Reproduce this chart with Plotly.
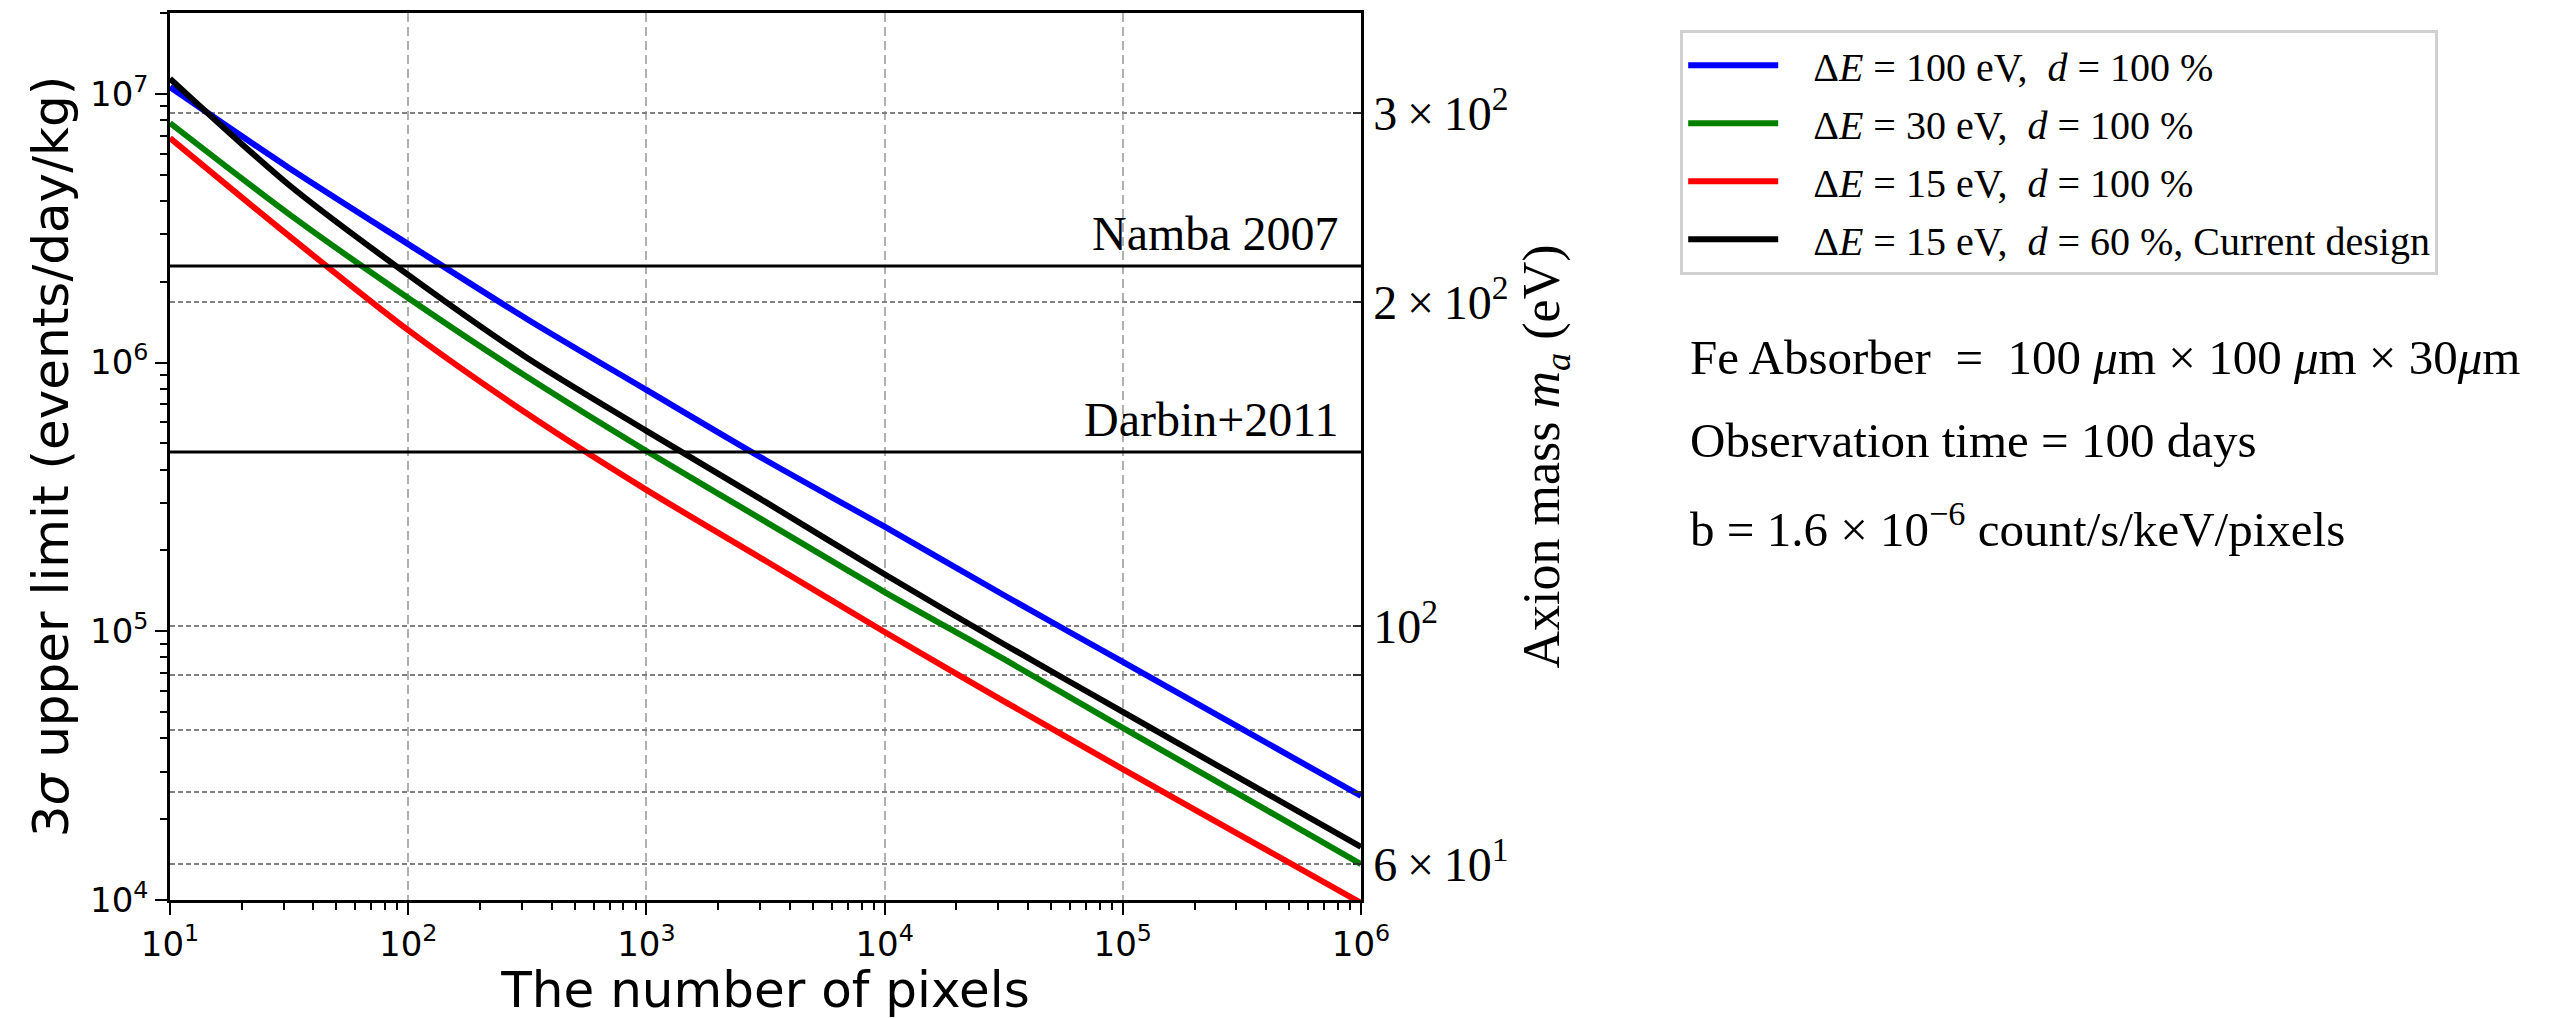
import numpy as np
import plotly.graph_objects as go

# ---------------- data ----------------
pixels = [10, 31.6, 100, 316, 1000, 3160, 1e4, 3.16e4, 1e5, 3.16e5, 1e6]

ul_100eV_d100 = [1.06e7, 5.30e6, 2.76e6, 1.45e6, 7.91e5, 4.34e5, 2.45e5, 1.365e5, 7.69e4, 4.33e4, 2.44e4]
ul_30eV_d100 = [7.79e6, 3.57e6, 1.74e6, 8.84e5, 4.69e5, 2.56e5, 1.40e5, 7.89e4, 4.37e4, 2.44e4, 1.36e4]
ul_15eV_d100 = [6.85e6, 2.96e6, 1.32e6, 6.45e5, 3.36e5, 1.83e5, 9.94e4, 5.50e4, 3.07e4, 1.73e4, 9.75e3]
ul_15eV_d60 = [1.14e7, 4.58e6, 2.12e6, 1.04e6, 5.57e5, 3.03e5, 1.63e5, 8.97e4, 5.01e4, 2.81e4, 1.575e4]

series_names = [
    "\u00a0\u00a0\u00a0Δ<i>E</i> = 100 eV,  <i>d</i> = 100 %",
    "\u00a0\u00a0\u00a0Δ<i>E</i> = 30 eV,  <i>d</i> = 100 %",
    "\u00a0\u00a0\u00a0Δ<i>E</i> = 15 eV,  <i>d</i> = 100 %",
    "\u00a0\u00a0\u00a0Δ<i>E</i> = 15 eV,  <i>d</i> = 60 %, Current design",
]
series_colors = ["#0000ff", "#008000", "#ff0000", "#000000"]

ref_names = ["Namba 2007", "Darbin+2011"]
ref_values = [2.29e6, 4.65e5]

x_range = [10, 1e6]
y_range = [1e4, 2e7]
x_tick_exp = [1, 2, 3, 4, 5, 6]
y_tick_exp = [4, 5, 6, 7]

# right axis: axion mass m_a = mass_scale * rate^(1/4)
mass_scale = 5.56
mass_ticks = [60, 70, 80, 90, 100, 200, 300]
mass_ticktext = ["6\u2009×\u200910<sup>1</sup>", "", "", "", "10<sup>2</sup>",
                 "2\u2009×\u200910<sup>2</sup>", "3\u2009×\u200910<sup>2</sup>"]

info_lines = [
    "Fe Absorber\u00a0\u00a0=\u00a0\u00a0100 <i>μ</i>m × 100 <i>μ</i>m × 30<i>μ</i>m",
    "Observation time = 100 days",
    "b = 1.6 × 10<sup>−6</sup> count/s/keV/pixels",
]

SANS = "DejaVu Sans"
SERIF = "Liberation Serif"

fig = go.Figure()

series = [ul_100eV_d100, ul_30eV_d100, ul_15eV_d100, ul_15eV_d60]
for i, (vals, name, col) in enumerate(zip(series, series_names, series_colors)):
    fig.add_trace(go.Scatter(
        x=pixels, y=vals, mode="lines", name=name,
        line=dict(color=col, width=6, shape="spline", smoothing=0.8),
        legendgroup=f"g{i}",
    ))

for name, val in zip(ref_names, ref_values):
    fig.add_trace(go.Scatter(
        x=x_range, y=[val, val], mode="lines", showlegend=False,
        line=dict(color="black", width=3),
    ))
    fig.add_annotation(
        x=0.983, xref="paper", xanchor="right",
        y=np.log10(val), yref="y", yanchor="bottom", yshift=4,
        text=name, showarrow=False,
        font=dict(family=SERIF, size=48, color="black"),
    )

# invisible trace to activate the right axis
fig.add_trace(go.Scatter(
    x=[x_range[0]], y=[100], yaxis="y2", mode="lines",
    line=dict(width=0), showlegend=False, hoverinfo="skip",
))

minor_x = [m * 10 ** e for e in range(1, 6) for m in range(2, 10)]
minor_y = [m * 10 ** e for e in range(4, 8) for m in range(2, 10) if m * 10 ** e <= y_range[1]]

fig.update_layout(
    width=2552, height=1019,
    paper_bgcolor="white", plot_bgcolor="white",
    margin=dict(l=170, r=1191, t=13, b=119, autoexpand=False),
    showlegend=True,
    legend=dict(
        x=1.268, y=0.981, xanchor="left", yanchor="top",
        font=dict(family=SERIF, size=40, color="black"),
        bordercolor="#d0d0d0", borderwidth=3, bgcolor="white",
        itemwidth=90, tracegroupgap=3,
    ),
    xaxis=dict(
        type="log", range=[np.log10(x_range[0]), np.log10(x_range[1])],
        tickvals=[10 ** e for e in x_tick_exp],
        ticktext=[f"10<sup>{e}</sup>" for e in x_tick_exp],
        tickfont=dict(family=SANS, size=34, color="black"),
        ticks="outside", ticklen=12, tickwidth=2, tickcolor="black",
        minor=dict(tickvals=minor_x, ticks="outside", ticklen=7, tickwidth=1.5, tickcolor="black", showgrid=False),
        showline=True, linecolor="black", linewidth=2.5, mirror=True,
        showgrid=True, gridcolor="#b0b0b0", gridwidth=2, griddash="9px,5px",
        zeroline=False,
        title=dict(text="The number of pixels", font=dict(family=SANS, size=50, color="black"), standoff=6),
    ),
    yaxis=dict(
        type="log", range=[np.log10(y_range[0]), np.log10(y_range[1])],
        tickvals=[10 ** e for e in y_tick_exp],
        ticktext=[f"10<sup>{e}</sup>" for e in y_tick_exp],
        tickfont=dict(family=SANS, size=34, color="black"),
        ticks="outside", ticklen=12, tickwidth=2, tickcolor="black",
        minor=dict(tickvals=minor_y, ticks="outside", ticklen=7, tickwidth=1.5, tickcolor="black", showgrid=False),
        showline=True, linecolor="black", linewidth=2.5, mirror=False,
        showgrid=False, zeroline=False,
        title=dict(text="3<i>σ</i> upper limit (events/day/kg)", font=dict(family=SANS, size=50, color="black"), standoff=6),
    ),
    yaxis2=dict(
        type="log", overlaying="y", side="right", anchor="x",
        range=[np.log10(mass_scale * y_range[0] ** 0.25), np.log10(mass_scale * y_range[1] ** 0.25)],
        tickvals=mass_ticks, ticktext=mass_ticktext,
        tickfont=dict(family=SERIF, size=48, color="black"),
        ticks="inside", ticklen=8, tickwidth=2, tickcolor="#333333",
        showline=True, linecolor="black", linewidth=2.5,
        showgrid=True, gridcolor="#808080", gridwidth=1.5, griddash="5px,3px",
        zeroline=False,
        title=dict(text="Axion mass <i>m<sub>a</sub></i> (eV)", font=dict(family=SERIF, size=52, color="black"), standoff=16),
    ),
)

info_y = [0.612, 0.5175, 0.422]
for txt, yy in zip(info_lines, info_y):
    fig.add_annotation(
        x=1.2746, xref="paper", xanchor="left",
        y=yy, yref="paper", yanchor="middle",
        text=txt, showarrow=False,
        font=dict(family=SERIF, size=49, color="black"),
    )

fig.write_html("out.html")
